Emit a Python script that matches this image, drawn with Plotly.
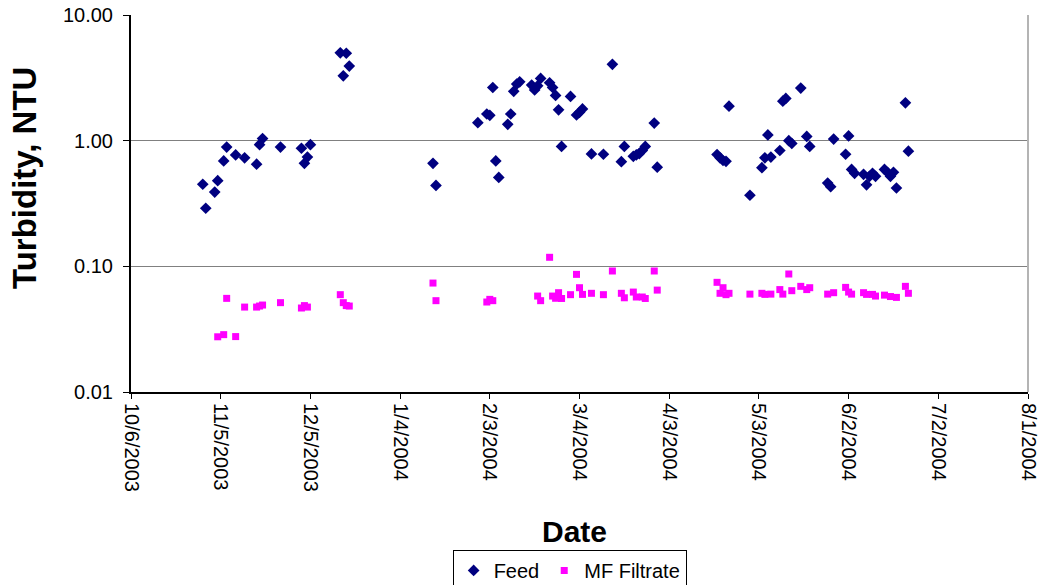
import plotly.graph_objects as go

# Feed turbidity (NTU) by sampling date
feed_dates = [
    "2003-10-30", "2003-10-31", "2003-11-03", "2003-11-04", "2003-11-06", "2003-11-07",
    "2003-11-10", "2003-11-13", "2003-11-17", "2003-11-18", "2003-11-19", "2003-11-25",
    "2003-12-02", "2003-12-03", "2003-12-04", "2003-12-05", "2003-12-15", "2003-12-16",
    "2003-12-17", "2003-12-18", "2004-01-15", "2004-01-16", "2004-01-30", "2004-02-02",
    "2004-02-03", "2004-02-04", "2004-02-05", "2004-02-06", "2004-02-09", "2004-02-10",
    "2004-02-11", "2004-02-12", "2004-02-13", "2004-02-17", "2004-02-18", "2004-02-19",
    "2004-02-20", "2004-02-23", "2004-02-24", "2004-02-25", "2004-02-26", "2004-02-27",
    "2004-03-01", "2004-03-03", "2004-03-04", "2004-03-05", "2004-03-08", "2004-03-12",
    "2004-03-15", "2004-03-18", "2004-03-19", "2004-03-22", "2004-03-23", "2004-03-24",
    "2004-03-25", "2004-03-26", "2004-03-29", "2004-03-30", "2004-04-19", "2004-04-20",
    "2004-04-21", "2004-04-22", "2004-04-23", "2004-04-30", "2004-05-04", "2004-05-05",
    "2004-05-06", "2004-05-07", "2004-05-10", "2004-05-11", "2004-05-12", "2004-05-13",
    "2004-05-14", "2004-05-17", "2004-05-19", "2004-05-20", "2004-05-26", "2004-05-27",
    "2004-05-28", "2004-06-01", "2004-06-02", "2004-06-03", "2004-06-04", "2004-06-07",
    "2004-06-08", "2004-06-09", "2004-06-10", "2004-06-11", "2004-06-14", "2004-06-15",
    "2004-06-16", "2004-06-17", "2004-06-18", "2004-06-21", "2004-06-22",
]
feed_ntu = [
    0.45, 0.29, 0.39, 0.48, 0.69, 0.89,
    0.77, 0.73, 0.65, 0.93, 1.04, 0.89,
    0.87, 0.66, 0.74, 0.93, 5.00, 3.28,
    4.96, 3.92, 0.66, 0.44, 1.39, 1.63,
    1.59, 2.65, 0.69, 0.51, 1.35, 1.63,
    2.47, 2.82, 2.94, 2.77, 2.53, 2.73,
    3.13, 2.89, 2.65, 2.29, 1.76, 0.90,
    2.25, 1.60, 1.68, 1.79, 0.785, 0.78,
    4.05, 0.68, 0.90, 0.75, 0.77, 0.79,
    0.835, 0.90, 1.38, 0.615, 0.776, 0.73,
    0.695, 0.685, 1.88, 0.368, 0.61, 0.73,
    1.11, 0.74, 0.835, 2.06, 2.17, 1.00,
    0.95, 2.62, 1.08, 0.90, 0.46, 0.43,
    1.03, 0.78, 1.09, 0.59, 0.55, 0.54,
    0.445, 0.52, 0.55, 0.52, 0.59, 0.56,
    0.52, 0.56, 0.42, 2.00, 0.825,
]

# MF filtrate turbidity (NTU) by sampling date
filt_dates = [
    "2003-11-04", "2003-11-06", "2003-11-07", "2003-11-10", "2003-11-13", "2003-11-17",
    "2003-11-18", "2003-11-19", "2003-11-25", "2003-12-02", "2003-12-03", "2003-12-04",
    "2003-12-15", "2003-12-16", "2003-12-17", "2003-12-18", "2004-01-15", "2004-01-16",
    "2004-02-02", "2004-02-03", "2004-02-04", "2004-02-19", "2004-02-20", "2004-02-23",
    "2004-02-24", "2004-02-25", "2004-02-26", "2004-02-27", "2004-03-01", "2004-03-03",
    "2004-03-04", "2004-03-05", "2004-03-08", "2004-03-12", "2004-03-15", "2004-03-18",
    "2004-03-19", "2004-03-22", "2004-03-23", "2004-03-25", "2004-03-26", "2004-03-29",
    "2004-03-30", "2004-04-19", "2004-04-20", "2004-04-21", "2004-04-22", "2004-04-23",
    "2004-04-30", "2004-05-04", "2004-05-05", "2004-05-07", "2004-05-10", "2004-05-11",
    "2004-05-13", "2004-05-14", "2004-05-17", "2004-05-19", "2004-05-20", "2004-05-26",
    "2004-05-28", "2004-06-01", "2004-06-02", "2004-06-03", "2004-06-07", "2004-06-08",
    "2004-06-10", "2004-06-11", "2004-06-14", "2004-06-16", "2004-06-18", "2004-06-21",
    "2004-06-22",
]
filt_ntu = [
    0.0275, 0.0286, 0.0556, 0.0276, 0.0474, 0.0474,
    0.0483, 0.0492, 0.0514, 0.0466, 0.0487, 0.0474,
    0.0595, 0.0514, 0.0487, 0.0483, 0.0736, 0.0533,
    0.0520, 0.0546, 0.0533, 0.0580, 0.0533, 0.118,
    0.0580, 0.0557, 0.0617, 0.0555, 0.0595, 0.0863,
    0.0676, 0.0598, 0.0610, 0.0595, 0.0918, 0.0610,
    0.0562, 0.0624, 0.0570, 0.0570, 0.0555, 0.0918,
    0.0647, 0.0746, 0.0610, 0.0676, 0.0595, 0.0610,
    0.0601, 0.0610, 0.0598, 0.0601, 0.0653, 0.0601,
    0.0869, 0.0640, 0.0693, 0.0653, 0.0676, 0.0601,
    0.0617, 0.0680, 0.0624, 0.0601, 0.0617, 0.0598,
    0.0598, 0.0580, 0.0590, 0.0575, 0.0566, 0.0693,
    0.0610,
]

y_tick_vals = [0.01, 0.1, 1, 10]
y_tick_text = ["0.01", "0.10", "1.00", "10.00"]

FONT = "Arial, Liberation Sans, sans-serif"
DAY_MS = 86400000

fig = go.Figure()
fig.add_trace(go.Scatter(
    x=feed_dates, y=feed_ntu, mode="markers", name="Feed",
    marker=dict(symbol="diamond", size=9, color="#000080"),
))
fig.add_trace(go.Scatter(
    x=filt_dates, y=filt_ntu, mode="markers", name="MF Filtrate",
    marker=dict(symbol="square", size=7, color="#FF00FF"),
))

fig.update_layout(
    width=1039, height=585,
    margin=dict(l=131, r=11, t=15, b=193),
    paper_bgcolor="white", plot_bgcolor="white",
    font=dict(family=FONT, size=20, color="black"),
    showlegend=True,
    legend=dict(
        orientation="h", xref="paper", x=0.489, xanchor="center",
        yref="container", y=0.06, yanchor="top",
        bordercolor="black", borderwidth=1, bgcolor="white",
        font=dict(family=FONT, size=20), itemwidth=30,
    ),
    xaxis=dict(
        type="date", range=["2003-10-06", "2004-08-01"], automargin=False,
        tick0="2003-10-06", dtick=30 * DAY_MS, tickformat="%-m/%-d/%Y",
        tickangle=90, ticks="outside", ticklen=5, tickcolor="black",
        ticklabeloverflow="allow",
        showline=True, linecolor="black", linewidth=2,
        showgrid=False, zeroline=False,
        tickfont=dict(family=FONT, size=20),
    ),
    yaxis=dict(
        type="log", range=[-2, 1], automargin=False,
        tickvals=y_tick_vals, ticktext=y_tick_text,
        ticks="outside", ticklen=6, tickcolor="black",
        showline=True, linecolor="black", linewidth=2,
        showgrid=True, gridcolor="#808080", gridwidth=1,
        zeroline=False, ticklabelstandoff=6,
        tickfont=dict(family=FONT, size=20),
    ),
    annotations=[
        dict(text="<b>Turbidity, NTU</b>", textangle=-90, xref="paper", yref="paper",
             x=-0.118, y=0.568, xanchor="center", yanchor="middle",
             showarrow=False, font=dict(family=FONT, size=33)),
        dict(text="<b>Date</b>", xref="paper", yref="paper",
             x=0.494, y=-0.369, xanchor="center", yanchor="middle",
             showarrow=False, font=dict(family=FONT, size=30)),
    ],
    shapes=[
        dict(type="line", xref="paper", yref="paper", x0=1, x1=1, y0=0, y1=1,
             line=dict(color="#b4b4b4", width=2)),
    ],
)

fig.write_html("out.html")
